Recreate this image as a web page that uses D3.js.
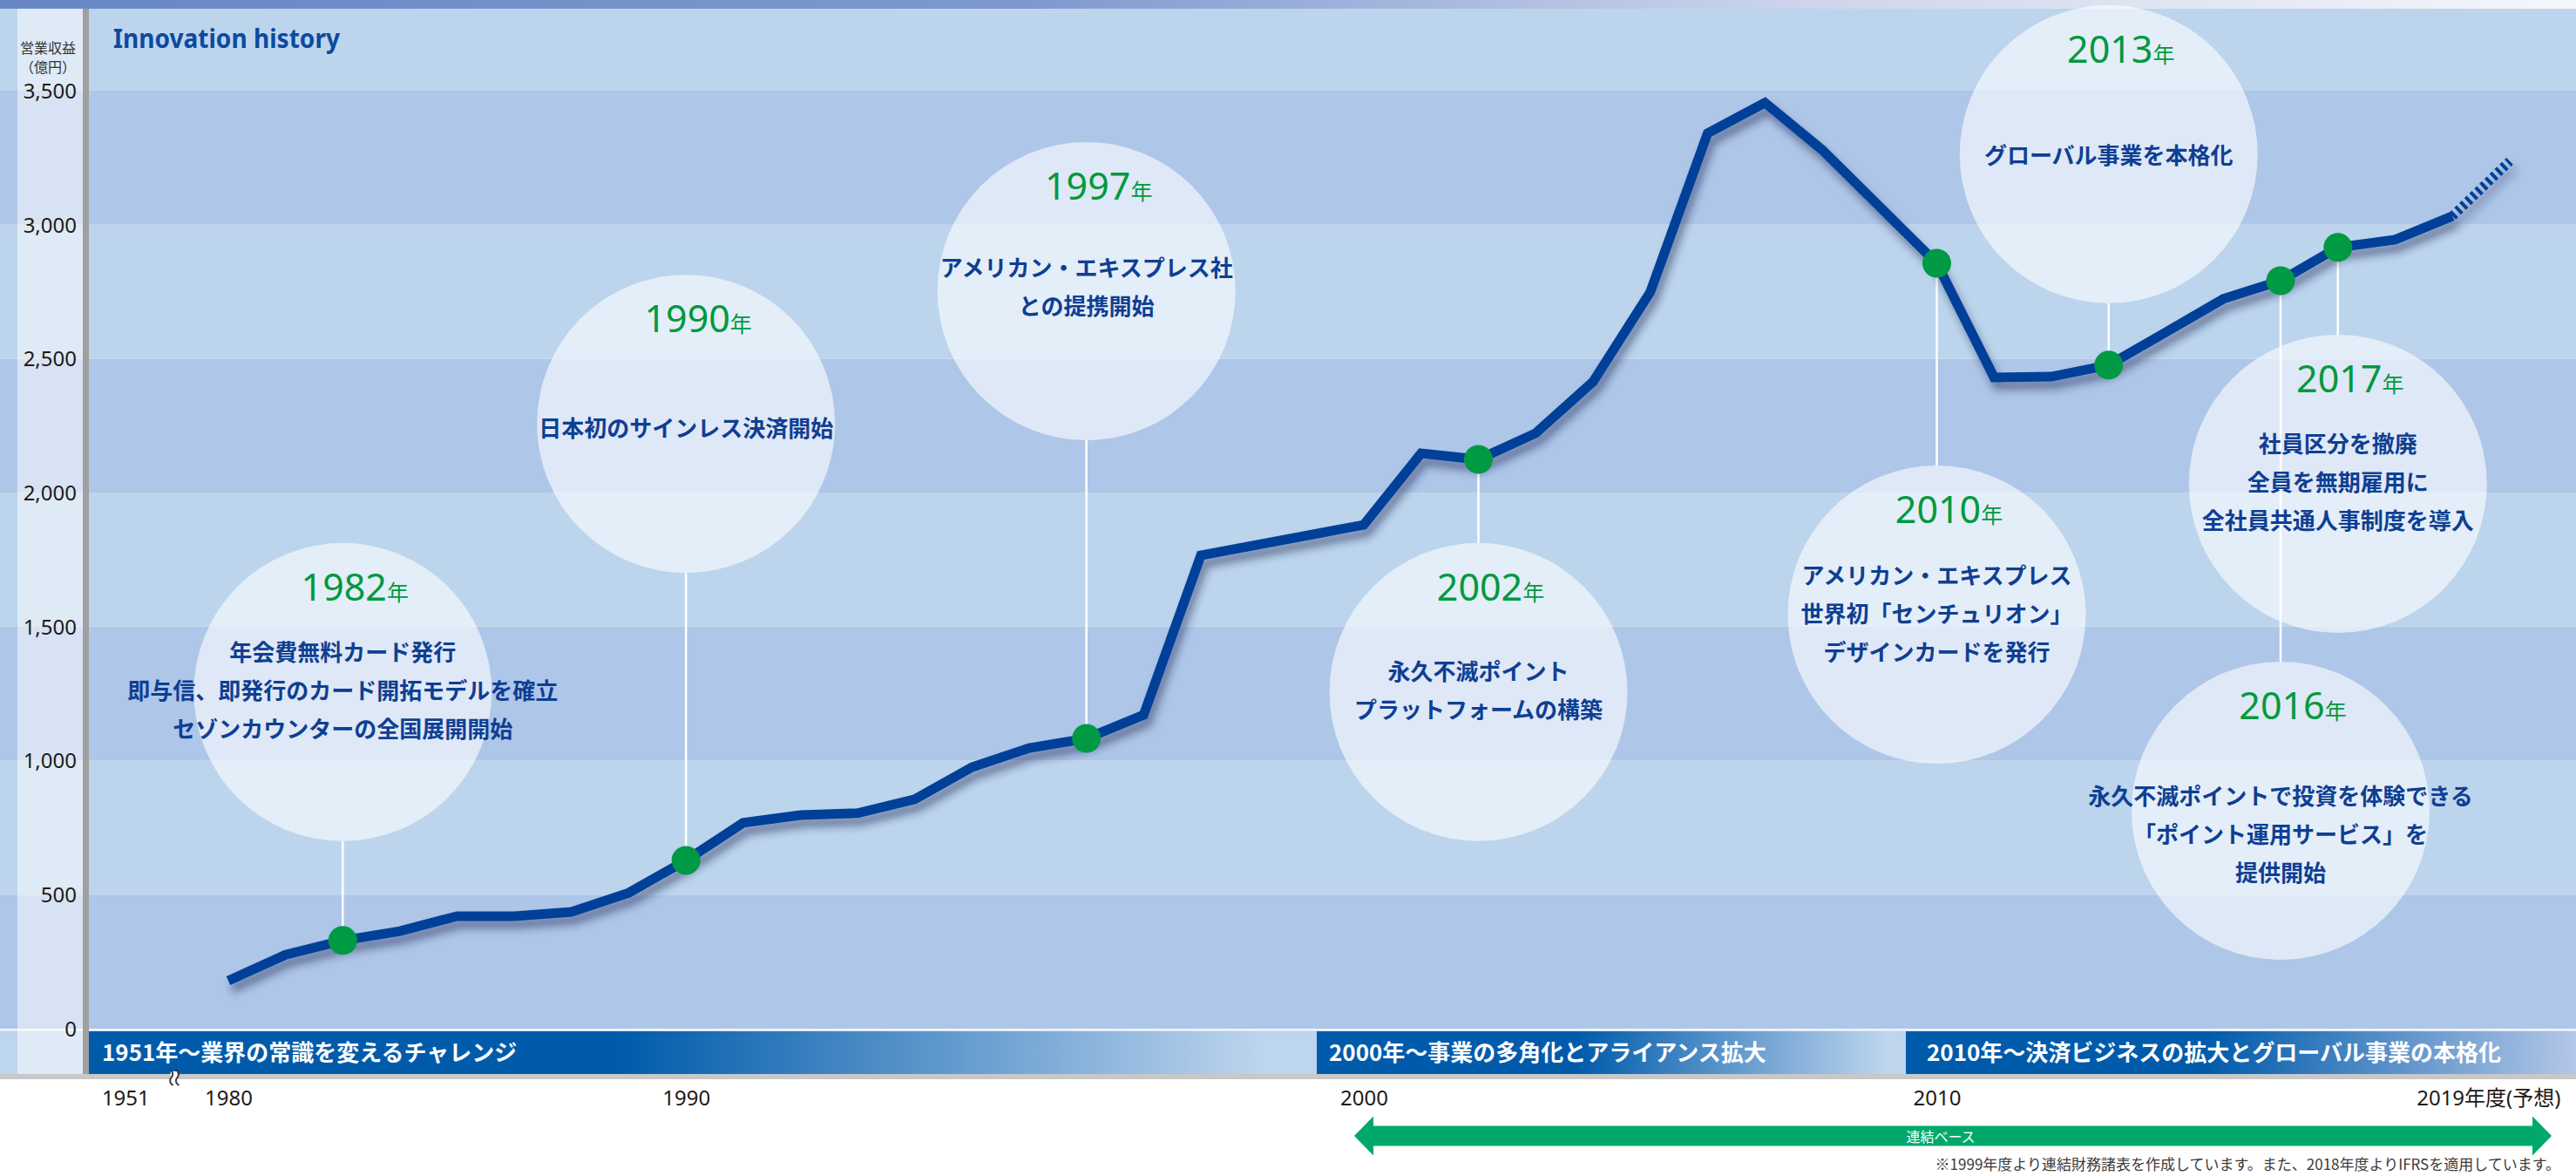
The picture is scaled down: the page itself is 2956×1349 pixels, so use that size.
<!DOCTYPE html>
<meta charset="utf-8">
<script src="https://d3js.org/d3.v7.min.js"></script>
<style>
  body { margin: 0; background: #fff; }
  svg text { font-family: "Noto Sans", "Noto Sans CJK JP", sans-serif; }
</style>
<div id="chart"></div>
<script>

// operating revenue (億円), one value per plotted point; index 17 = last non-consolidated point,
// index 37 = last actual, index 38 = forecast
var revenue = [179, 276, 329, 364, 420, 420, 436, 507, 628, 768, 797, 804, 856, 976, 1047, 1083, 1171, 1766,
               1880, 2147, 2124, 2222, 2414, 2749, 3341, 3455, 3279, 3068, 2856, 2430, 2433, 2476, 2599,
               2723, 2791, 2915, 2944, 3032, 3237];
var lastActual = 37;

var yTicks = [0, 500, 1000, 1500, 2000, 2500, 3000, 3500];

var xTickAt   = [-1.8, 0, 8, 18, 28, 38];
var xTickText = ["1951", "1980", "1990", "2000", "2010", "2019年度(予想)"];

// milestones: point index on the line, year, text, level (億円) where the bubble sits
var eventAt    = [2, 8, 15, 20, 28, 31, 34, 35];
var eventYear  = ["1982", "1990", "1997", "2002", "2010", "2013", "2016", "2017"];
var eventLevel = [1256, 2257, 2752, 1256, 1545, 3263, 813, 2033];
var eventText  = [
  ["年会費無料カード発行", "即与信、即発行のカード開拓モデルを確立", "セゾンカウンターの全国展開開始"],
  ["日本初のサインレス決済開始"],
  ["アメリカン・エキスプレス社", "との提携開始"],
  ["永久不滅ポイント", "プラットフォームの構築"],
  ["アメリカン・エキスプレス", "世界初「センチュリオン」", "デザインカードを発行"],
  ["グローバル事業を本格化"],
  ["永久不滅ポイントで投資を体験できる", "「ポイント運用サービス」を", "提供開始"],
  ["社員区分を撤廃", "全員を無期雇用に", "全社員共通人事制度を導入"]
];
// body text offset inside each bubble (px)
var textShift = [0, 6, -3, 0, 0, 3, 28, 0];

var sectionText = ["1951年〜業界の常識を変えるチャレンジ",
                   "2000年〜事業の多角化とアライアンス拡大",
                   "2010年〜決済ビジネスの拡大とグローバル事業の本格化"];

var W = 2956, H = 1349;
var svg = d3.select("#chart").append("svg")
    .attr("width", W).attr("height", H);

// broken x axis: point index -> px, with the consolidation gap between 17 and 18
var x = d3.scaleLinear()
    .domain([0, 17, 18, 38])
    .range([262, 1378, 1565, 2880]);
var y = d3.scaleLinear()
    .domain([0, 3500])
    .range([1180, 104]);

var defs = svg.append("defs");

var topGrad = defs.append("linearGradient").attr("id", "topGrad");
topGrad.append("stop").attr("offset", "0").attr("stop-color", "#6687c4");
topGrad.append("stop").attr("offset", "0.4").attr("stop-color", "#7f99cf");
topGrad.append("stop").attr("offset", "0.7").attr("stop-color", "#cdd5ec");
topGrad.append("stop").attr("offset", "1").attr("stop-color", "#f6f7fb");

var secEnd = ["#bed5ee", "#c3d8ef", "#b3c7e7"];
var secSolid = [0.45, 0.45, 0.45];
secEnd.forEach(function(c, i) {
  var g = defs.append("linearGradient").attr("id", "sec" + i);
  g.append("stop").attr("offset", "0").attr("stop-color", "#005bab");
  g.append("stop").attr("offset", secSolid[i]).attr("stop-color", "#005bab");
  g.append("stop").attr("offset", "1").attr("stop-color", c);
});

var f = defs.append("filter").attr("id", "shadow")
    .attr("x", "-5%").attr("y", "-10%").attr("width", "110%").attr("height", "120%");
f.append("feDropShadow").attr("dx", 4).attr("dy", 9).attr("stdDeviation", 5)
    .attr("flood-color", "#1c2c55").attr("flood-opacity", 0.5);

// horizontal bands
svg.append("rect").attr("x", 0).attr("y", 10).attr("width", W).attr("height", y(3500) - 10)
    .attr("fill", "#bcd5ed");
svg.selectAll(".band")
  .data(d3.pairs(yTicks))
  .enter().append("rect")
    .attr("x", 0).attr("width", W)
    .attr("y", function(d) { return y(d[1]); })
    .attr("height", function(d) { return y(d[0]) - y(d[1]); })
    .attr("fill", function(d, i) { return i % 2 == 0 ? "#aec6e8" : "#bcd5ed"; });

// bottom era row
svg.append("rect").attr("x", 0).attr("y", 1182).attr("width", W).attr("height", 50).attr("fill", "#bed5ee");
svg.append("rect").attr("x", 0).attr("y", 1180).attr("width", W).attr("height", 2.5).attr("fill", "#eff5fb");

var secX0 = [102, 1511, 2187], secX1 = [1450, 2174, W], secPad = [15, 14, 24];
sectionText.forEach(function(t, i) {
  svg.append("rect").attr("x", secX0[i]).attr("y", 1183).attr("width", secX1[i] - secX0[i]).attr("height", 49)
      .attr("fill", "url(#sec" + i + ")");
  svg.append("text").attr("x", secX0[i] + secPad[i]).attr("y", 1217)
      .style("font-family", "'Noto Sans CJK JP', sans-serif")
      .style("font-weight", "bold").style("font-size", "26px").attr("fill", "#fff")
      .text(t);
});

// light strip behind the y labels + grey axis bar
svg.append("rect").attr("x", 20).attr("y", 10).attr("width", 75).attr("height", 1222)
    .attr("fill", "#fff").attr("opacity", 0.5);
svg.append("rect").attr("x", 95).attr("y", 10).attr("width", 7).attr("height", 1222).attr("fill", "#a0a0a0");
svg.append("rect").attr("x", 0).attr("y", 1232).attr("width", W).attr("height", 6).attr("fill", "#c8c8c8");

// top bar
svg.append("rect").attr("x", 0).attr("y", 0).attr("width", W).attr("height", 10).attr("fill", "url(#topGrad)");

// bubbles
var R = 171;
var ev = eventAt.map(function(a, i) {
  return { cx: x(a), cy: y(eventLevel[i]), dx: x(a), dy: y(revenue[a]),
           year: eventYear[i], lines: eventText[i], shift: textShift[i] };
});

svg.selectAll(".stem")
  .data(ev)
  .enter().append("line")
    .attr("x1", function(d) { return d.dx; }).attr("x2", function(d) { return d.dx; })
    .attr("y1", function(d) { return d.dy; })
    .attr("y2", function(d) { return d.cy < d.dy ? d.cy + R : d.cy - R; })
    .attr("stroke", "#fff").attr("stroke-width", 2.5);

svg.selectAll(".bubble")
  .data(ev)
  .enter().append("circle")
    .attr("cx", function(d) { return d.cx; })
    .attr("cy", function(d) { return d.cy; })
    .attr("r", R)
    .attr("fill", "#fff").attr("fill-opacity", 0.6);

// revenue line
var line = d3.line()
    .x(function(d) { return x(d.i); })
    .y(function(d) { return y(d.v); });
var pts = revenue.map(function(v, i) { return { i: i, v: v }; });

var lg = svg.append("g").attr("filter", "url(#shadow)");
lg.append("path")
    .attr("d", line(pts.slice(0, lastActual + 1)))
    .attr("fill", "none").attr("stroke", "#003f98").attr("stroke-width", 11)
    .attr("stroke-linejoin", "miter");
lg.append("path")
    .attr("d", line(pts.slice(lastActual)))
    .attr("fill", "none").attr("stroke", "#003f98").attr("stroke-width", 11)
    .attr("stroke-dasharray", "4,4");

svg.selectAll(".dot")
  .data(ev)
  .enter().append("circle")
    .attr("cx", function(d) { return d.dx; })
    .attr("cy", function(d) { return d.dy; })
    .attr("r", 16.5)
    .attr("fill", "#009a44");

// bubble texts
ev.forEach(function(d) {
  var yt = svg.append("text").attr("x", d.cx + 14).attr("y", d.cy - 105)
      .attr("text-anchor", "middle").attr("fill", "#00993e");
  yt.append("tspan").style("font-size", "43px").text(d.year);
  yt.append("tspan").style("font-size", "25px").style("font-family", "'Noto Sans CJK JP', sans-serif").text("年");
  var n = d.lines.length;
  d.lines.forEach(function(t, j) {
    svg.append("text").attr("x", d.cx)
        .attr("y", d.cy - 3 + d.shift + (j - (n - 1) / 2) * 44)
        .attr("dominant-baseline", "central")
        .attr("text-anchor", "middle")
        .style("font-family", "'Noto Sans CJK JP', sans-serif")
        .style("font-weight", "bold").style("font-size", "26px")
        .attr("fill", "#0e3f93")
        .text(t);
  });
});

// y axis labels
var yAxis = svg.append("g")
    .attr("transform", "translate(88,0)")
    .call(d3.axisLeft(y).tickValues(yTicks).tickSize(0).tickPadding(0).tickFormat(d3.format(",")));
yAxis.select(".domain").remove();
yAxis.selectAll("text").style("font-size", "24px").attr("fill", "#231815").attr("dy", "0.35em");

svg.append("text").attr("x", 87).attr("y", 61).attr("text-anchor", "end")
    .style("font-family", "'Noto Sans CJK JP', sans-serif").style("font-size", "16px").attr("fill", "#333")
    .text("営業収益");
svg.append("text").attr("x", 87).attr("y", 83).attr("text-anchor", "end")
    .style("font-family", "'Noto Sans CJK JP', sans-serif").style("font-size", "16px").attr("fill", "#333")
    .text("（億円）");

// title
svg.append("text").attr("x", 130).attr("y", 55)
    .style("font-weight", "bold").style("font-size", "30px").attr("fill", "#0d4a9e")
    .attr("textLength", 260).attr("lengthAdjust", "spacingAndGlyphs")
    .text("Innovation history");

// x axis labels
var xAxis = svg.append("g")
    .attr("transform", "translate(0,1251)")
    .call(d3.axisBottom(x).tickValues(xTickAt).tickSize(0).tickPadding(0)
      .tickFormat(function(d, i) { return xTickText[i]; }));
xAxis.select(".domain").remove();
xAxis.selectAll("text").style("font-size", "24px").attr("fill", "#231815");
xAxis.selectAll(".tick").filter(function(d, i) { return i == xTickAt.length - 1; })
    .select("text").attr("text-anchor", "end").attr("x", 58);

// axis break mark between 1951 and 1980
var bx = x(-0.95);
svg.append("rect").attr("x", bx - 4).attr("y", 1229).attr("width", 8).attr("height", 14).attr("fill", "#fff");
svg.append("text").attr("x", bx).attr("y", 1236)
    .attr("text-anchor", "middle").attr("dominant-baseline", "central")
    .attr("transform", "rotate(90," + bx + ",1236)")
    .style("font-size", "26px").attr("fill", "#333")
    .text("≈");

// consolidated-basis arrow
var ax0 = x(18) - 11, ax1 = x(38) + 48, ay = 1303;
var arrow = d3.path();
arrow.moveTo(ax0, ay);
arrow.lineTo(ax0 + 22, ay - 22.5);
arrow.lineTo(ax0 + 22, ay - 11.5);
arrow.lineTo(ax1 - 22, ay - 11.5);
arrow.lineTo(ax1 - 22, ay - 22.5);
arrow.lineTo(ax1, ay);
arrow.lineTo(ax1 - 22, ay + 22.5);
arrow.lineTo(ax1 - 22, ay + 11.5);
arrow.lineTo(ax0 + 22, ay + 11.5);
arrow.lineTo(ax0 + 22, ay + 22.5);
arrow.closePath();
svg.append("path").attr("d", arrow.toString()).attr("fill", "#00a96b");
svg.append("text").attr("x", (ax0 + ax1) / 2 - 14).attr("y", ay)
    .attr("text-anchor", "middle").attr("dominant-baseline", "central")
    .style("font-family", "'Noto Sans CJK JP', sans-serif").style("font-size", "16px").attr("fill", "#fff")
    .text("連結ベース");

svg.append("text").attr("x", 2938).attr("y", 1342).attr("text-anchor", "end")
    .style("font-family", "'Noto Sans CJK JP', sans-serif").style("font-size", "17px").attr("fill", "#3e3a39")
    .text("※1999年度より連結財務諸表を作成しています。また、2018年度よりIFRSを適用しています。");

</script>
